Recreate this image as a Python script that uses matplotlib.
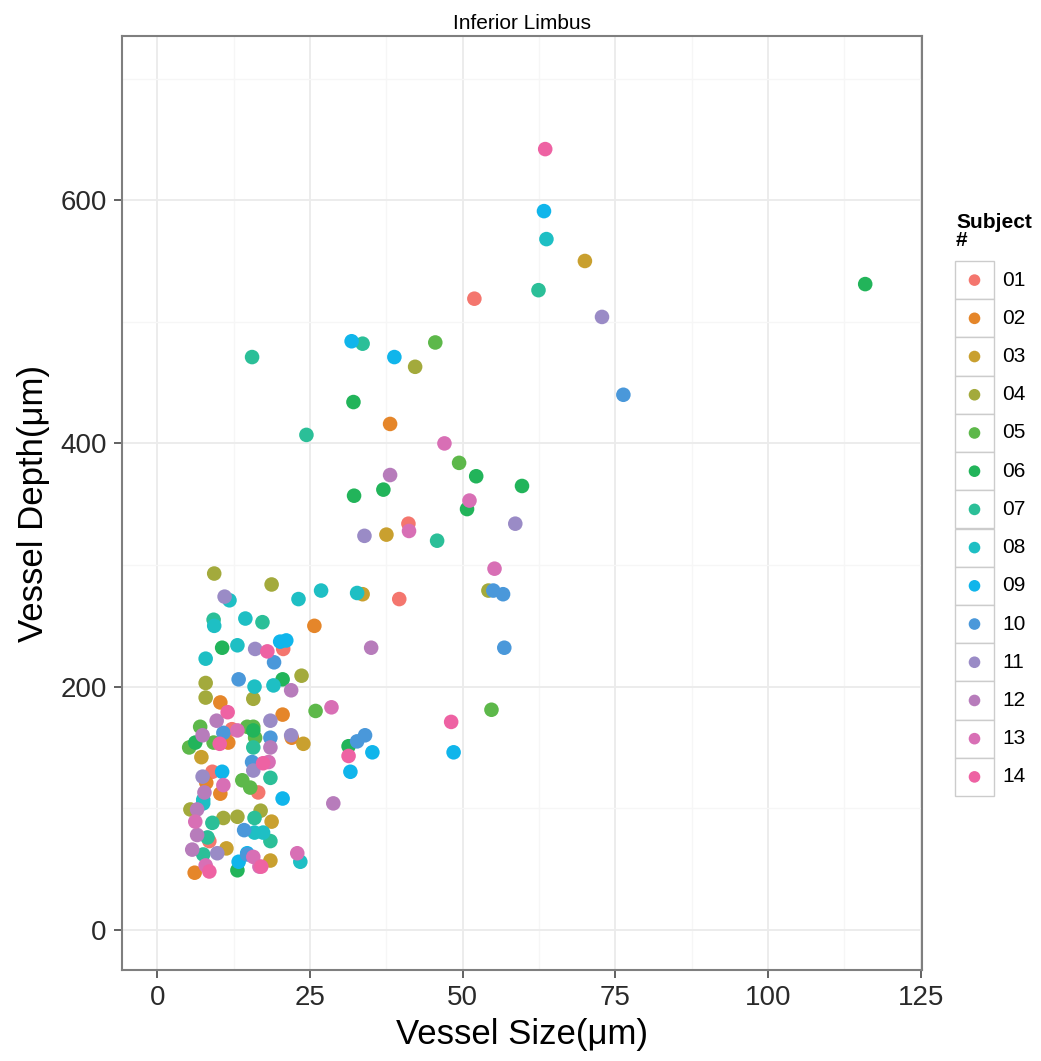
import numpy as np
import matplotlib.pyplot as plt
from matplotlib.patches import Rectangle

plt.rcParams['font.family'] = ['Liberation Sans', 'DejaVu Sans']

subjects = ["01", "02", "03", "04", "05", "06", "07",
            "08", "09", "10", "11", "12", "13", "14"]
colors = ["#F4766E", "#E5862A", "#C9A02F", "#A3AA3C", "#5DB84A", "#22B45A",
          "#2BBF98", "#1EBFC4", "#10B5EB", "#4A98DA", "#9A8BC6", "#B77CBB",
          "#D86FB5", "#EE62A3"]

# vessel size (um) and depth (um), one pair of lists per subject
size_01 = [51.9, 41.1, 39.6, 20.6, 9.0, 16.5, 8.5, 12.2]
depth_01 = [519, 334, 272, 231, 130, 113, 73, 165]
size_02 = [38.1, 25.7, 10.3, 20.5, 22.0, 10.3, 8.0, 6.1, 11.6]
depth_02 = [416, 250, 187, 177, 158, 112, 121, 47, 154]
size_03 = [70.0, 37.5, 33.6, 23.9, 7.2, 18.7, 18.5, 11.3]
depth_03 = [550, 325, 276, 153, 142, 89, 57, 67]
size_04 = [42.2, 54.2, 9.3, 18.7, 23.6, 7.9, 7.9, 15.7, 5.4, 10.8, 13.1, 16.9]
depth_04 = [463, 279, 293, 284, 209, 203, 191, 190, 99, 92, 93, 98]
size_05 = [45.5, 49.4, 54.7, 7.0, 14.7, 16.0, 5.2, 15.7, 25.9, 13.9, 15.2, 9.2]
depth_05 = [483, 384, 181, 167, 167, 158, 150, 167, 180, 123, 117, 154]
size_06 = [115.9, 32.1, 52.2, 59.7, 37.0, 32.2, 50.7, 31.3, 10.6, 20.5,
           13.1, 15.7, 6.2]
depth_06 = [531, 434, 373, 365, 362, 357, 346, 151, 232, 206,
            49, 164, 154]
size_07 = [62.4, 33.6, 15.5, 24.4, 45.8, 17.2, 9.2, 15.7, 18.5, 9.0,
           15.9, 8.2, 18.5, 7.5]
depth_07 = [526, 482, 471, 407, 320, 253, 255, 150, 125, 88,
            92, 76, 73, 62]
size_08 = [63.7, 32.7, 26.8, 23.1, 14.4, 9.3, 11.8, 13.1, 7.9, 15.9,
           19.0, 7.5, 15.9, 17.3, 23.4, 7.5]
depth_08 = [568, 277, 279, 272, 256, 250, 271, 234, 223, 200,
            201, 107, 80, 80, 56, 104]
size_09 = [63.3, 31.8, 38.8, 20.1, 21.1, 48.5, 35.2, 31.6, 10.6, 20.5,
           13.3, 14.7]
depth_09 = [591, 484, 471, 237, 238, 146, 146, 130, 130, 108,
            56, 63]
size_10 = [76.3, 55.0, 56.6, 56.8, 19.1, 13.3, 32.7, 34.0, 10.8, 15.5,
           18.5, 14.2, 14.7]
depth_10 = [440, 279, 276, 232, 220, 206, 155, 160, 162, 138,
            158, 82, 62]
size_11 = [72.8, 58.6, 33.9, 11.0, 16.0, 18.5, 21.9, 15.7, 7.4, 9.8]
depth_11 = [504, 334, 324, 274, 231, 172, 160, 131, 126, 63]
size_12 = [38.1, 35.0, 21.9, 9.7, 7.4, 18.5, 7.7, 6.5, 6.5, 5.7, 28.8]
depth_12 = [374, 232, 197, 172, 160, 150, 113, 99, 78, 66, 104]
size_13 = [47.0, 51.1, 41.2, 55.2, 28.5, 13.1, 10.8, 18.2, 6.2, 22.9,
           15.7, 16.7, 7.9]
depth_13 = [400, 353, 328, 297, 183, 164, 119, 138, 89, 63,
            60, 52, 53]
size_14 = [63.5, 18.0, 11.5, 10.2, 48.1, 31.3, 17.3, 8.5, 17.0]
depth_14 = [642, 229, 179, 153, 171, 143, 137, 48, 52]

sizes = [size_01, size_02, size_03, size_04, size_05, size_06, size_07,
         size_08, size_09, size_10, size_11, size_12, size_13, size_14]
depths = [depth_01, depth_02, depth_03, depth_04, depth_05, depth_06, depth_07,
          depth_08, depth_09, depth_10, depth_11, depth_12, depth_13, depth_14]

W, H = 1041, 1061
fig = plt.figure(figsize=(W / 100, H / 100), dpi=100)
ax = fig.add_axes([122 / W, 1 - 970 / H, 800 / W, 934 / H])

for xs, ys, c in zip(sizes, depths, colors):
    ax.scatter(xs, ys, s=110, color=c, edgecolors="none", zorder=3)

ax.set_xlim(-5.8, 125.2)
ax.set_ylim(-33, 735)
ax.set_xticks([0, 25, 50, 75, 100, 125])
ax.set_yticks([0, 200, 400, 600])
ax.set_xticks(np.arange(12.5, 125, 25), minor=True)
ax.set_yticks([100, 300, 500, 700], minor=True)
ax.grid(which="major", color="#EBEBEB", lw=1.3, zorder=0)
ax.grid(which="minor", color="#F6F6F6", lw=1.0, zorder=0)
ax.tick_params(which="minor", length=0)
ax.tick_params(which="major", length=6, width=1.3, color="#555555",
               labelsize=20, labelcolor="#2A2A2A", pad=5)
for sp in ax.spines.values():
    sp.set_color("#7F7F7F")
    sp.set_linewidth(1.5)

ax.set_xlabel("Vessel Size(μm)", fontsize=25, labelpad=5)
ax.set_ylabel("Vessel Depth(μm)", fontsize=25, labelpad=7)
ax.set_title("Inferior Limbus", fontsize=15, pad=5)

# legend drawn as ggplot-style boxed keys
lax = fig.add_axes([955 / W, 1 - 796 / H, 39 / W, 535 / H])
lax.set_xlim(0, 1)
lax.set_ylim(len(subjects), 0)
lax.axis("off")
for i, (lab, c) in enumerate(zip(subjects, colors)):
    lax.add_patch(Rectangle((0, i), 1, 1, facecolor="white",
                            edgecolor="#CCCCCC", lw=1.0, clip_on=False))
    lax.scatter(0.5, i + 0.5, s=70, color=c, edgecolors="none", zorder=3)
    lax.text(1.22, i + 0.5, lab, fontsize=15, va="center", ha="left",
             clip_on=False)
fig.text(956 / W, 1 - 222 / H, "Subject", fontsize=15, fontweight="bold",
         va="center", ha="left")
fig.text(956 / W, 1 - 240 / H, "#", fontsize=15, fontweight="bold",
         va="center", ha="left")

fig.savefig("out.png", dpi=100)
